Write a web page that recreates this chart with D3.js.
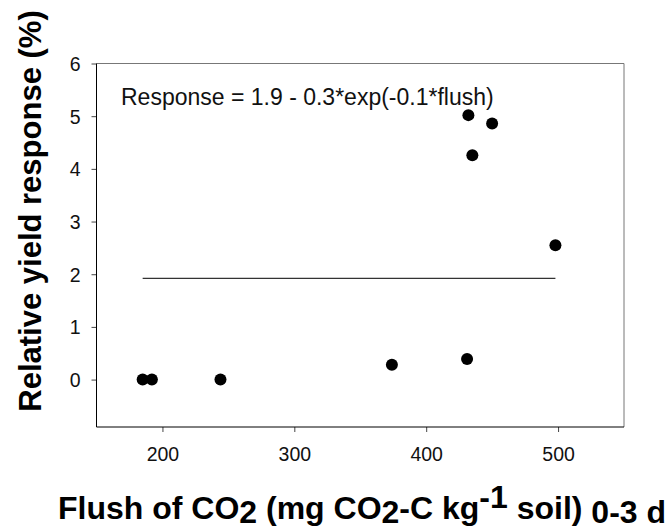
<!DOCTYPE html>
<html>
<head>
<meta charset="utf-8">
<script src="https://cdnjs.cloudflare.com/ajax/libs/d3/7.8.5/d3.min.js"></script>
<style>
body { margin: 0; background: #fff; }
text { font-family: "Liberation Sans", Arial, sans-serif; }
</style>
</head>
<body>
<div id="scatter"></div>
<script>
// data
var flush = [185, 192, 244, 374, 431, 432, 435, 450, 498];
var response = [0, 0, 0, 0.28, 0.39, 5.02, 4.26, 4.86, 2.55];
var fitFlush = [185, 498];
var fitResponse = [1.92, 1.92];
var xTicks = [200, 300, 400, 500];
var yTicks = [0, 1, 2, 3, 4, 5, 6];
var equation = "Response = 1.9 - 0.3*exp(-0.1*flush)";

var svgWidth = 669;
var svgHeight = 529;

var margin = {
    top: 63.5,
    right: 45,
    bottom: 102,
    left: 96.5
};

var width = svgWidth - margin.left - margin.right;
var height = svgHeight - margin.top - margin.bottom;

var svg = d3.select("#scatter")
  .append("svg")
  .attr("width", svgWidth)
  .attr("height", svgHeight);

var chartGroup = svg.append("g")
  .attr("transform", `translate(${margin.left}, ${margin.top})`);

//scale functions
var xLinearScale = d3.scaleLinear()
  .domain([150, 550])
  .range([0, width]);

var yLinearScale = d3.scaleLinear()
  .domain([-0.9, 6])
  .range([height, 0]);

//axes
var bottomAxis = d3.axisBottom(xLinearScale)
  .tickValues(xTicks)
  .tickSize(5)
  .tickSizeOuter(0)
  .tickPadding(15);
var leftAxis = d3.axisLeft(yLinearScale)
  .tickValues(yTicks)
  .tickFormat(d3.format("d"))
  .tickSize(5)
  .tickSizeOuter(0)
  .tickPadding(11);

var xAxisG = chartGroup.append("g")
  .attr("transform", `translate(0, ${height})`)
  .call(bottomAxis);

var yAxisG = chartGroup.append("g")
  .call(leftAxis);

[xAxisG, yAxisG].forEach(function(g) {
    g.select(".domain").remove();
    g.selectAll(".tick line").attr("stroke", "#444");
    g.selectAll(".tick text")
      .attr("font-size", 19.5)
      .attr("font-family", "Liberation Sans, Arial, sans-serif")
      .attr("fill", "#111");
});
yAxisG.selectAll(".tick text").attr("dy", "0.36em");

//frame
chartGroup.append("line")
  .attr("x1", 0).attr("x2", width)
  .attr("y1", 0).attr("y2", 0)
  .attr("stroke", "#777");
chartGroup.append("line")
  .attr("x1", width).attr("x2", width)
  .attr("y1", 0).attr("y2", height)
  .attr("stroke", "#777");
chartGroup.append("line")
  .attr("x1", 0).attr("x2", 0)
  .attr("y1", 0).attr("y2", height)
  .attr("stroke", "#000");
chartGroup.append("line")
  .attr("x1", 0).attr("x2", width)
  .attr("y1", height).attr("y2", height)
  .attr("stroke", "#000");

//fitted line
var line = d3.line()
  .x(d => xLinearScale(d[0]))
  .y(d => yLinearScale(d[1]));

chartGroup.append("path")
  .datum(d3.zip(fitFlush, fitResponse))
  .attr("d", line)
  .attr("fill", "none")
  .attr("stroke", "#333")
  .attr("stroke-width", 1.2);

//points
chartGroup.selectAll("circle")
  .data(d3.zip(flush, response))
  .enter()
  .append("circle")
  .attr("cx", d => xLinearScale(d[0]))
  .attr("cy", d => yLinearScale(d[1]))
  .attr("r", 6)
  .attr("fill", "#000");

//equation
chartGroup.append("text")
  .attr("x", 24.5)
  .attr("y", 41.5)
  .attr("font-size", 23)
  .attr("fill", "#111")
  .text(equation);

// axis labels
svg.append("text")
  .attr("transform", "translate(41, 211) rotate(-90)")
  .attr("text-anchor", "middle")
  .attr("font-size", 31)
  .attr("font-weight", 700)
  .text("Relative yield response (%)");

var xLabel = svg.append("text")
  .attr("x", 58)
  .attr("y", 519)
  .attr("font-size", 32)
  .attr("font-weight", 700);

var parts = [
    ["Flush of CO", 0],
    ["2", 4],
    [" (mg CO", -4],
    ["2", 4],
    ["-C kg", -4],
    ["-1", -11],
    [" soil)", 11],
    [" 0-3 d", 4]
];
parts.forEach(function(p) {
    xLabel.append("tspan")
      .attr("dy", p[1])
      .text(p[0]);
});
</script>
</body>
</html>
